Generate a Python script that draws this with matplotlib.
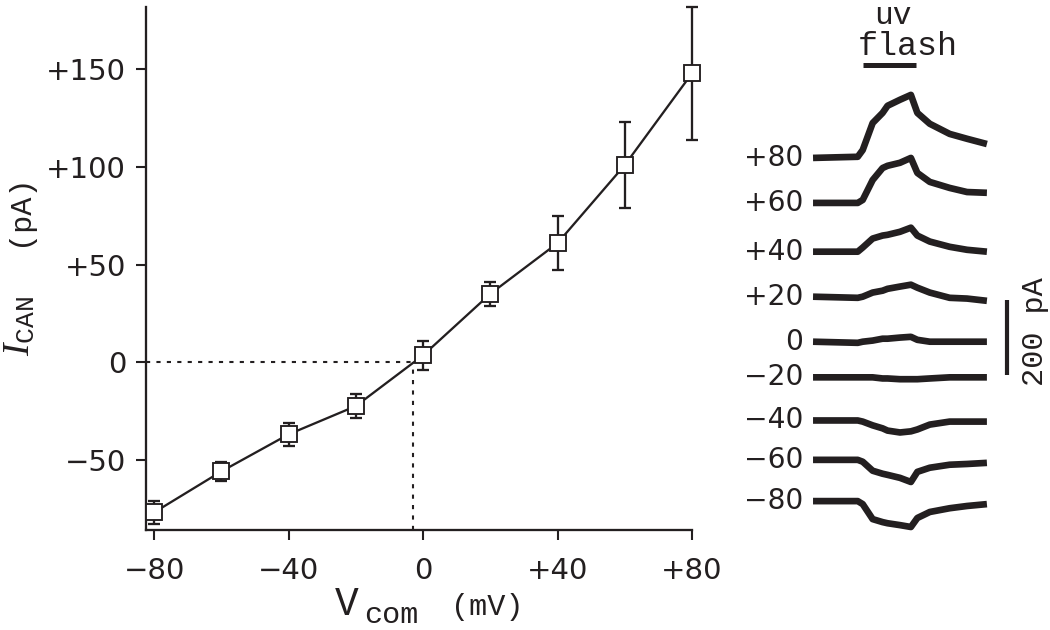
import numpy as np
import matplotlib as mpl
mpl.use('Agg')
import matplotlib.pyplot as plt

####################################################################################
# I-V relation of I_CAN (mean +- error)

vcom = [-80, -60, -40, -20, 0, 20, 40, 60, 80]
ican = [-77, -56, -37, -22.5, 3.5, 35, 61, 101, 148]
ican_err = [6, 5, 6, 6, 7.5, 6, 14, 22, 34]
v_rev = -3

xticks = [-80, -40, 0, 40, 80]
xticklabels = ['\u221280', '\u221240', '0', '+40', '+80']
yticks = [-50, 0, 50, 100, 150]
yticklabels = ['\u221250', '0', '+50', '+100', '+150']

# example current traces (pA, relative to holding current), time in s
t_trace = [0, 0.9, 1.0, 1.2, 1.4, 1.5, 1.75, 1.97, 2.1, 2.35, 2.75, 3.1, 3.5]
trace_labels = ['+80', '+60', '+40', '+20', '0', '\u221220', '\u221240', '\u221260', '\u221280']
traces = [
    [0, 3, 21, 93, 120, 139, 155, 168, 120, 91, 64, 51, 37],
    [0, 0, 8, 61, 93, 99, 107, 120, 80, 56, 40, 29, 27],
    [0, 0, 11, 35, 43, 45, 53, 64, 43, 27, 13, 5, 0],
    [0, -3, 0, 11, 16, 21, 27, 32, 24, 11, -3, -5, -11],
    [0, -3, 0, 3, 8, 8, 11, 13, 5, 0, 0, 0, 0],
    [0, 0, 0, 0, -3, -3, -5, -5, -5, -3, 0, 0, 0],
    [0, 0, -3, -13, -21, -27, -32, -29, -24, -11, -3, -3, -3],
    [0, 0, -5, -29, -37, -40, -48, -59, -32, -21, -13, -11, -8],
    [0, 0, -8, -48, -56, -59, -64, -69, -45, -29, -19, -13, -8],
]
flash_on, flash_off = 1.0, 2.07
scale_bar = 200

####################################################################################

ink = '#231f20'
mono = 'Liberation Mono'

plt.rcParams['font.family'] = ['DejaVu Sans']
plt.rcParams['mathtext.fontset'] = 'custom'
plt.rcParams['mathtext.it'] = 'Liberation Serif:italic'
plt.rcParams['mathtext.rm'] = 'Liberation Serif'
plt.rcParams['mathtext.tt'] = 'Liberation Mono'

fig = plt.figure(figsize=(7, 4.2), dpi=150)

# ---- left panel: I-V curve
ax = fig.add_axes([146/1050, 100/630, 546/1050, 523/630])
xmin, xmax = -82.4, 80
ymin, ymax = -86, 182

ax.plot([xmin, v_rev], [0, 0], ls=(0, (2, 3)), lw=1, color=ink, zorder=1)
ax.plot([v_rev, v_rev], [ymin, 0], ls=(0, (2, 3)), lw=1, color=ink, zorder=1)

eb = ax.errorbar(vcom, ican, yerr=ican_err, fmt='none', ecolor=ink, elinewidth=1.1,
                 capsize=2.9, capthick=1.1, zorder=2)
for art in eb.lines[1] + eb.lines[2]:
    art.set_clip_on(False)
ax.plot(vcom, ican, '-s', color=ink, lw=1.1, ms=8, mfc='white', mec=ink, mew=0.9,
        zorder=3, clip_on=False)

ax.set_xlim(xmin, xmax)
ax.set_ylim(ymin, ymax)
ax.set_xticks(xticks)
ax.set_xticklabels(xticklabels)
ax.set_yticks(yticks)
ax.set_yticklabels(yticklabels)
ax.tick_params(direction='out', length=5, width=1, colors=ink, labelsize=14)
ax.tick_params(axis='x', pad=8)
ax.tick_params(axis='y', pad=4.5)
for s in ['top', 'right']:
    ax.spines[s].set_visible(False)
for s in ['left', 'bottom']:
    ax.spines[s].set_linewidth(1.1)
    ax.spines[s].set_color(ink)

# axis labels, pieced together like the original
fig.text(20/1050, 1-326/630, r'$I_{\mathtt{CAN}}$', rotation=90, ha='center',
         va='center', fontsize=18, color=ink)
fig.text(19/1050, 1-210/630, '(pA)', rotation=90, ha='center', va='center',
         family=mono, fontsize=14.5, color=ink)
fig.text(347/1050, 1-615/630, 'V', ha='center', va='baseline', family=mono,
         fontsize=19, color=ink)
fig.text(391/1050, 1-623/630, 'com', ha='center', va='baseline', family=mono,
         fontsize=14.5, color=ink)
fig.text(487/1050, 1-615/630, '(mV)', ha='center', va='baseline', family=mono,
         fontsize=14.5, color=ink)

# ---- right panel: example traces
trace_offset = [915, 795, 665, 545, 425, 330, 215, 110, 0]

ax2 = fig.add_axes([740/1050, 70/630, 310/1050, 560/630])
ax2.set_xlim(-1.47, 4.77)
ax2.set_ylim(-157, 1336)
ax2.axis('off')

for lab, tr, off in zip(trace_labels, traces, trace_offset):
    ax2.plot(t_trace, np.array(tr) + off, color=ink, lw=3.2,
             solid_joinstyle='round', solid_capstyle='butt')
    ax2.text(-0.2, off, lab, ha='right', va='center', fontsize=13.5, color=ink)

ax2.plot([flash_on, flash_off], [1163, 1163], color=ink, lw=2.4, solid_capstyle='butt')
ax2.text(1.91, 1189, 'flash', ha='center', va='baseline', family=mono, fontsize=16, color=ink)
ax2.text(1.61, 1334, 'uv', ha='center', va='top', family=mono, fontsize=15, color=ink)

ax2.plot([3.9, 3.9], [336, 336 + scale_bar], color=ink, lw=2, solid_capstyle='butt')
ax2.text(4.47, 451, '%d pA' % scale_bar, rotation=90, ha='center', va='center',
         family=mono, fontsize=14.5, color=ink)

fig.savefig('out.png', dpi=150)
